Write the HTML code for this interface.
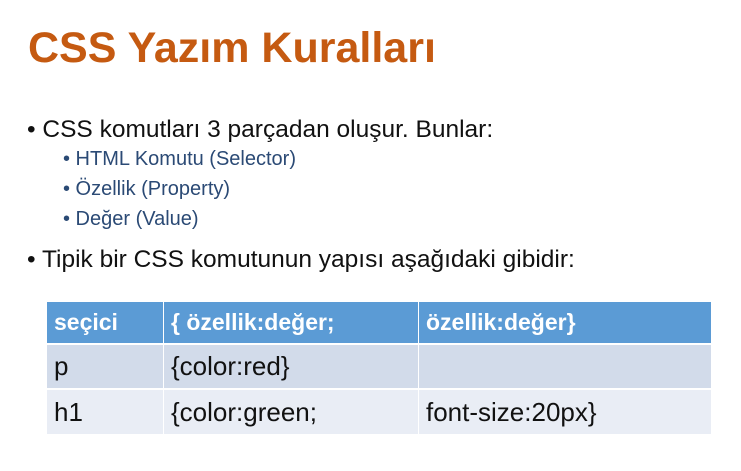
<!DOCTYPE html><html><head><style>
body{margin:0;width:741px;height:471px;background:#fff;position:relative;overflow:hidden;font-family:"Liberation Sans",sans-serif}
.a{position:absolute;white-space:nowrap}
h1{position:absolute;left:28px;top:24px;margin:0;font-size:43px;color:#c55a11;font-weight:bold;letter-spacing:0}
.b{font-size:24.5px;color:#111}
.s{font-size:20px;color:#2b4a75}
td{position:absolute;font-size:26px;color:#111;padding-left:7px;box-sizing:border-box;display:flex;align-items:center}
.h{background:#5b9bd5;color:#fff;font-weight:bold;font-size:23px}
.r1{background:#d2dbea}.r2{background:#e9edf5}
</style></head><body>
<h1>CSS Yazım Kuralları</h1>
<div class="a b" style="left:27px;top:116px">• CSS komutları 3 parçadan oluşur. Bunlar:</div>
<div class="a s" style="left:63px;top:148px">• HTML Komutu (Selector)</div>
<div class="a s" style="left:63px;top:178px">• Özellik (Property)</div>
<div class="a s" style="left:63px;top:208px">• Değer (Value)</div>
<div class="a b" style="left:27px;top:246px">• Tipik bir CSS komutunun yapısı aşağıdaki gibidir:</div>
<table><tr>
<td class="h" style="left:47px;top:302px;width:116px;height:41px">seçici</td>
<td class="h" style="left:164px;top:302px;width:254px;height:41px">{ özellik:değer;</td>
<td class="h" style="left:419px;top:302px;width:292px;height:41px">özellik:değer}</td>
<td class="r1" style="left:47px;top:345px;width:116px;height:43px">p</td>
<td class="r1" style="left:164px;top:345px;width:254px;height:43px">{color:red}</td>
<td class="r1" style="left:419px;top:345px;width:292px;height:43px"></td>
<td class="r2" style="left:47px;top:390px;width:116px;height:44px">h1</td>
<td class="r2" style="left:164px;top:390px;width:254px;height:44px">{color:green;</td>
<td class="r2" style="left:419px;top:390px;width:292px;height:44px">font-size:20px}</td>
</tr></table>
</body></html>
